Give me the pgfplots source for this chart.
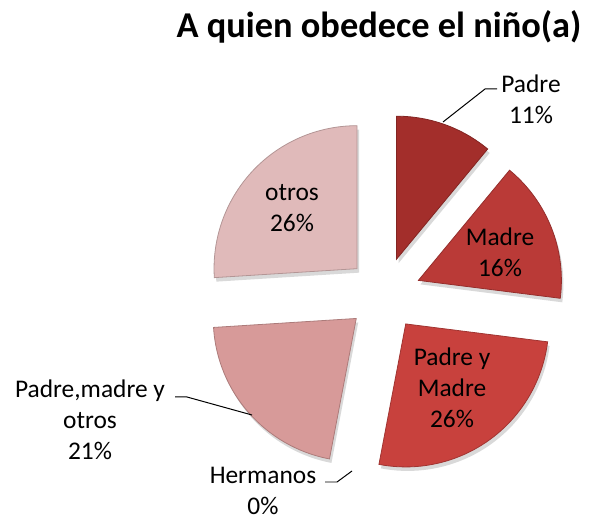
\documentclass[border=0pt]{standalone}
\usepackage{pgfplots}
\pgfplotsset{compat=1.18}
\usepackage{pgfplotstable}
\usepackage{fontspec}
\setmainfont{Carlito}

\definecolor{slice0}{HTML}{A32E2B}
\definecolor{slice1}{HTML}{BA3A37}
\definecolor{slice2}{HTML}{C8413D}
\definecolor{slice3}{HTML}{9BBB59}
\definecolor{slice4}{HTML}{D79A99}
\definecolor{slice5}{HTML}{E0BABA}

\pgfplotstableread{
name value
Padre 11
Madre 16
PadreyMadre 26
Hermanos 0
PadreMadreOtros 21
otros 26
}\piedata

\begin{document}
\begin{tikzpicture}
\begin{axis}[width=592bp,height=518bp,scale only axis,
  xmin=0,xmax=592,ymin=0,ymax=518,hide axis,clip=false]
\path (axis cs:0,0) rectangle (axis cs:592,518);
\def\cum{0}
\pgfplotsforeachungrouped \i in {0,...,5}{%
  \pgfplotstablegetelem{\i}{value}\of\piedata
  \let\v=\pgfplotsretval
  \pgfmathsetmacro\sa{90-3.6*\cum}%
  \pgfmathsetmacro\ea{90-3.6*(\cum+\v)}%
  \pgfmathsetmacro\mid{(\sa+\ea)/2}%
  \pgfmathsetmacro\ax{384+37*cos(\mid)}%
  \pgfmathsetmacro\ay{224+37*sin(\mid)}%
  \pgfmathsetmacro\cum{\cum+\v}%
  \ifdim\v pt>0pt
    \edef\cmd{%
      \noexpand\fill[black,opacity=0.15] ([xshift=2bp,yshift=-4bp]axis cs:\ax,\ay) -- ++(\sa:143bp) arc[start angle=\sa,end angle=\ea,radius=143bp] -- cycle;
      \noexpand\fill[fill=slice\i, draw=slice\i!80!black, line width=0.8pt] (axis cs:\ax,\ay) -- ++(\sa:143bp) arc[start angle=\sa,end angle=\ea,radius=143bp] -- cycle;
    }%
    \cmd
  \fi
}
% title
\node[font=\fontsize{36.5}{42}\selectfont\bfseries, anchor=base, inner sep=0pt] at (axis cs:379,480) {A quien obedece el niño(a)};
% labels
\begin{scope}[every node/.style={font=\fontsize{25.5}{31}\selectfont, align=center, inner sep=0pt}]
\node at (axis cs:531,419) {Padre\\11\%};
\node at (axis cs:500,266) {Madre\\16\%};
\node at (axis cs:452,130) {Padre y\\Madre\\26\%};
\node at (axis cs:292,310) {otros\\26\%};
\node at (axis cs:90,98) {Padre,madre y\\otros\\21\%};
\node at (axis cs:263,27) {Hermanos\\0\%};
\end{scope}
% leader lines
\draw[black, line width=1pt] (axis cs:497,429) -- (axis cs:485,429) -- (axis cs:443,396);
\draw[black, line width=1pt] (axis cs:175,121) -- (axis cs:187,121) -- (axis cs:252,103);
\draw[black, line width=1pt] (axis cs:325,36) -- (axis cs:337,36) -- (axis cs:352,47);
\end{axis}
\end{tikzpicture}
\end{document}
